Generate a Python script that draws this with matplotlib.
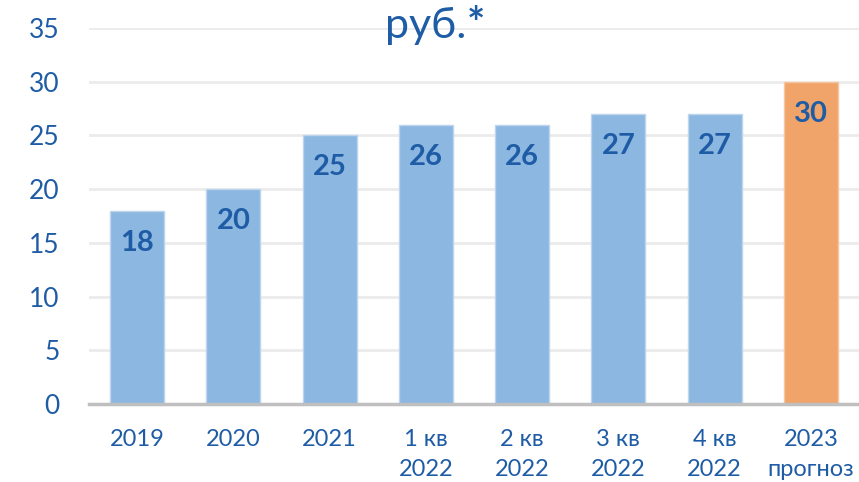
import matplotlib.pyplot as plt

plt.rcParams['font.family'] = ['Lato', 'DejaVu Sans']

periods = ['2019', '2020', '2021', '1 кв\n2022', '2 кв\n2022', '3 кв\n2022', '4 кв\n2022', '2023\nпрогноз']
prices = [18, 20, 25, 26, 26, 27, 27, 30]
forecast = [False, False, False, False, False, False, False, True]

text_color = '#1F5CA6'
bar_colors = ['#F0A46A' if f else '#8CB7E0' for f in forecast]
edge_colors = ['#F6C6A2' if f else '#BDD6EE' for f in forecast]

fig = plt.figure(figsize=(8.59, 4.82), dpi=100)
ax = fig.add_axes([0.1036, 0.1618, 0.8964, 0.7801])

x = range(len(prices))
bars = ax.bar(x, prices, width=0.56, color=bar_colors, edgecolor=edge_colors, linewidth=1, zorder=2)

for b, v in zip(bars, prices):
    ax.annotate(str(v), (b.get_x() + b.get_width() / 2, v), xytext=(0, -23),
                textcoords='offset points', ha='center', va='center',
                fontsize=21, fontweight='bold', color=text_color, zorder=3)

ax.set_xlim(-0.5, len(prices) - 0.5)
ax.set_ylim(0, 35)
ax.set_yticks(range(0, 36, 5))
ax.set_xticks(list(x))
ax.set_xticklabels(periods, linespacing=1.55)
ax.yaxis.grid(True, color='#EBEBEB', linewidth=2, zorder=0)
ax.set_axisbelow(True)

for s in ['top', 'right', 'left']:
    ax.spines[s].set_visible(False)
ax.spines['bottom'].set_color('#BFBFBF')
ax.spines['bottom'].set_linewidth(2.5)
ax.spines['bottom'].set_zorder(4)

ax.tick_params(axis='y', length=0, pad=21, labelsize=19, labelcolor=text_color)
ax.tick_params(axis='x', length=0, pad=18, labelsize=17, labelcolor=text_color)

# unit caption, asterisk set in bold
fig.text(0.543, 0.921, 'руб.', ha='right', va='baseline', fontsize=31, color=text_color)
fig.text(0.543, 0.921, '*', ha='left', va='baseline', fontsize=31, fontweight='bold', color=text_color)

fig.savefig('out.png', dpi=100)
